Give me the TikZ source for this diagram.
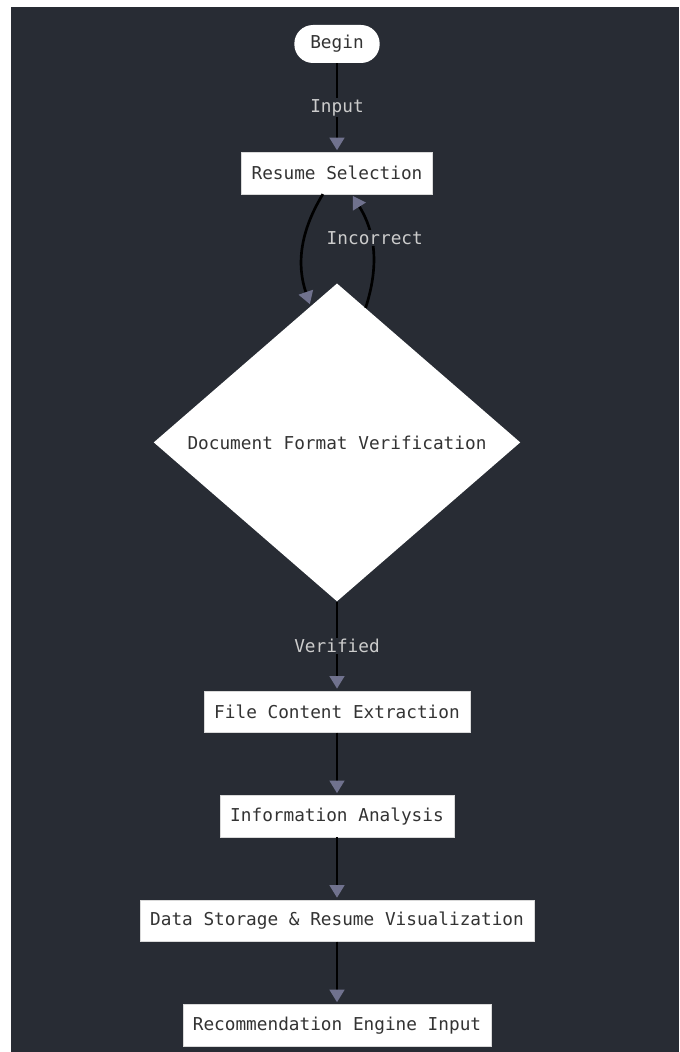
\documentclass[tikz,border=0pt]{standalone}
\usepackage{fontspec}
\setmonofont{DejaVu Sans Mono}
\usepackage{tikz}
\usetikzlibrary{positioning}
\usetikzlibrary{arrows.meta}
\usetikzlibrary{shapes}
\definecolor{darkbg}{RGB}{40,44,52}
\definecolor{tipgrey}{RGB}{112,114,142}
\definecolor{boxtext}{RGB}{51,51,51}
\definecolor{labeltext}{RGB}{204,204,204}
\tikzset{basic/.style={fill=white,text=boxtext,font=\ttfamily\fontsize{13.3}{16}\selectfont}}
\tikzset{stepbox/.style={basic,rectangle,draw=white!85!black,line width=0.4pt,minimum height=31pt,inner xsep=7.5pt}}
\tikzset{terminal/.style={basic,rectangle,rounded corners=14pt,minimum width=64pt,minimum height=28.5pt}}
\tikzset{decision/.style={basic,diamond,minimum width=275pt,minimum height=236pt,inner sep=1pt}}
\tikzset{edgelabel/.style={fill=darkbg,text=labeltext,font=\ttfamily\fontsize{13.3}{16}\selectfont,inner sep=1pt}}
\tikzset{flow/.style={draw=black,line width=2pt,-{Triangle[color=tipgrey,length=9.5pt,width=11pt]},shorten >=1.5pt}}

\begin{document}
\begin{tikzpicture}[x=0.75pt,y=0.75pt]
        % page and dark canvas
        \fill[white] (0,0) rectangle (679,-1052);
        \fill[darkbg] (11,-7) rectangle (679,-1052);
        \node[terminal] (begin) at (337,-44) {Begin};
        \node[stepbox,below=66.75pt of begin] (resume) {Resume Selection};
            \path[flow] (begin) -- node[edgelabel] {Input} (resume);
        \node[decision,below=66.75pt of resume] (check) {Document Format Verification};
            \path[flow] (resume.-124) to[bend right=25] (check.101);
            \path[flow] (check.78) to[bend right=25] node[edgelabel,pos=0.6,xshift=3pt] {Incorrect} (resume.-55);
        \node[stepbox,below=66.75pt of check] (extract) {File Content Extraction};
            \path[flow] (check) -- node[edgelabel] {Verified} (extract);
        \node[stepbox,below=47pt of extract] (analysis) {Information Analysis};
            \path[flow] (extract) -- (analysis);
        \node[stepbox,below=47pt of analysis] (storage) {Data Storage \& Resume Visualization};
            \path[flow] (analysis) -- (storage);
        \node[stepbox,below=47pt of storage] (engine) {Recommendation Engine Input};
            \path[flow] (storage) -- (engine);
\end{tikzpicture}
\end{document}
